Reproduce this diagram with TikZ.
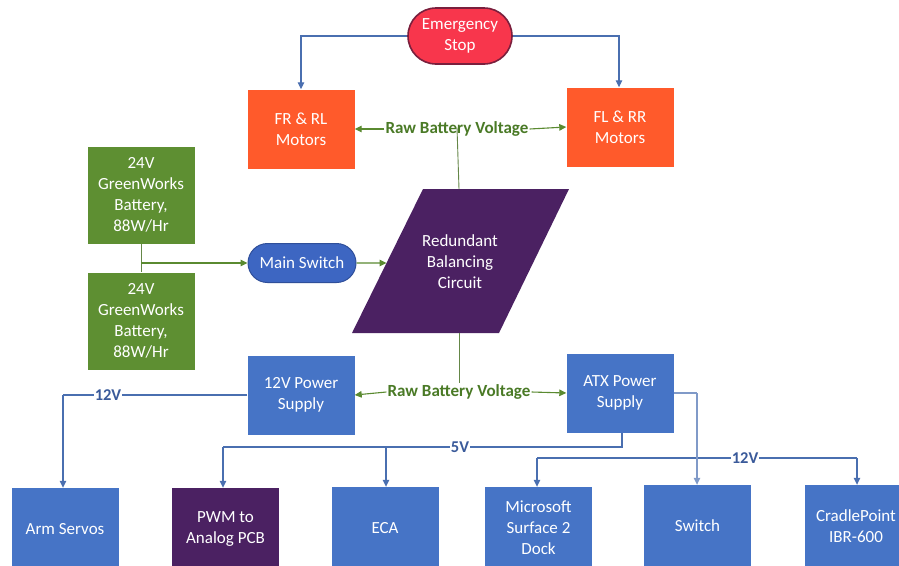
\documentclass[tikz,border=0pt]{standalone}
\usepackage{fontspec}
\setmainfont{Carlito}
\usetikzlibrary{arrows.meta,shapes.misc,calc}
\definecolor{estopred}{HTML}{F8364C}
\definecolor{estopedge}{HTML}{7A1F3D}
\definecolor{motor}{HTML}{FF5A2B}
\definecolor{batt}{HTML}{5E8F32}
\definecolor{boxblue}{HTML}{4674C6}
\definecolor{swblue}{HTML}{3D66C2}
\definecolor{swedge}{HTML}{2F4F9A}
\definecolor{purp}{HTML}{4B2162}
\definecolor{linkblue}{HTML}{4A6FB0}
\definecolor{linkgreen}{HTML}{5A8A30}
\definecolor{lblgreen}{HTML}{4A7A26}
\definecolor{lblblue}{HTML}{3A5A9A}
\tikzset{
  boxtext/.style={text=white, align=center, font=\fontsize{17}{21}\selectfont, inner sep=0pt},
  rbox/.style={boxtext, minimum width=107pt, minimum height=79pt},
  motorbox/.style={rbox, fill=motor},
  battbox/.style={rbox, fill=batt, minimum height=97pt},
  bluebox/.style={rbox, fill=boxblue},
  purpbox/.style={rbox, fill=purp},
  pill/.style={boxtext, rounded rectangle, line width=1.6pt},
  bluelink/.style={draw=linkblue, line width=1.1pt, -{Triangle[length=7pt,width=6.5pt]}},
  bluelinkplain/.style={draw=linkblue, line width=1.1pt},
  greenlink/.style={draw=linkgreen, line width=1.1pt, -{Triangle[length=7pt,width=6.5pt]}},
  greenplain/.style={draw=linkgreen!70!gray, line width=0.9pt},
  greenlbl/.style={text=lblgreen, font=\fontsize{17}{19}\bfseries\selectfont, inner sep=1pt},
  bluelbl/.style={text=lblblue, font=\fontsize{16.5}{18}\bfseries\selectfont, fill=white, inner sep=1pt},
}
\begin{document}
\begin{tikzpicture}[x=1pt,y=-1pt]
\useasboundingbox (0,0) rectangle (899,565);
\fill[white] (0,0) rectangle (899,565);

% top
\node[pill, fill=estopred, draw=estopedge, minimum width=104pt, minimum height=56pt] (estop) at (460,36) {Emergency\\Stop};
\node[motorbox] (fr) at (301,129) {FR \& RL\\Motors};
\node[motorbox] (fl) at (620,127) {FL \& RR\\Motors};
\node[greenlbl] (rbv1) at (457,129) {Raw Battery Voltage};

% parallelogram
\coordinate (ptl) at (423,189);
\coordinate (ptr) at (569,189);
\coordinate (pbr) at (499,333);
\coordinate (pbl) at (352,333);
\fill[purp] (ptl) -- (ptr) -- (pbr) -- (pbl) -- cycle;
\node[boxtext] (rbc) at (460,262) {Redundant\\Balancing\\Circuit};
\coordinate (pleft) at ($(ptl)!0.514!(pbl)$);
\coordinate (ptop) at (459,189);
\coordinate (pbot) at (459,333);

% batteries
\node[battbox] (b1) at (141,195) {24V\\GreenWorks\\Battery,\\88W/Hr};
\node[battbox] (b2) at (141,321) {24V\\GreenWorks\\Battery,\\88W/Hr};
\node[pill, fill=swblue, draw=swedge, line width=1pt, minimum width=108pt, minimum height=39pt] (ms) at (302,263) {Main Switch};
\coordinate (bj) at (141,263);

% power supplies
\node[bluebox] (ps12) at (301,395) {12V Power\\Supply};
\node[bluebox] (atx) at (620,393) {ATX Power\\Supply};
\node[greenlbl] (rbv2) at (459,392) {Raw Battery Voltage};

% bottom row
\node[bluebox, minimum height=82pt] (arm) at (65,529) {Arm Servos};
\node[purpbox, minimum height=82pt] (pwm) at (225.5,529) {PWM to\\Analog PCB};
\node[bluebox, minimum height=82pt] (eca) at (385,528) {ECA};
\node[bluebox, minimum height=82pt] (surf) at (538.5,528) {Microsoft\\Surface 2\\Dock};
\node[bluebox, minimum height=82pt] (sw) at (697.5,526) {Switch};
\node[bluebox, minimum height=82pt, minimum width=102pt] (cp) at (856,526) {CradlePoint\\IBR-600};

% connectors top
\draw[bluelink] (estop.west) -| (fr.north);
\draw[bluelink] (estop.east) -| ([xshift=-1pt]fl.north);
\draw[greenlink] (rbv1.west) -- (fr.east);
\draw[greenlink] (rbv1.east) -- (fl.west);
\draw[greenplain] ([yshift=10pt]rbv1.south) -- (ptop);
\draw[greenplain] (b1.south) -- (b2.north);
\draw[greenlink] (bj) -- (ms.west);
\draw[greenlink] (ms.east) -- (pleft);
\draw[greenplain] (pbot) -- (rbv2.north);
\draw[greenlink] (rbv2.west) -- (ps12.east);
\draw[greenlink] (rbv2.east) -- (atx.west);

% 12V from 12V supply
\coordinate (c12a) at (63,395);
\draw[bluelinkplain] (ps12.west) -- (c12a);
\draw[bluelink] (c12a) -- (arm.north -| c12a);
\node[bluelbl] (l12a) at (108,395) {12V};

% 5V from ATX
\coordinate (c5r) at (622,447);
\coordinate (c5l) at (223,447);
\coordinate (c5m) at (386,447);
\draw[bluelinkplain] (atx.south -| c5r) -- (c5r) -- (c5l);
\draw[bluelink] (c5l) -- (pwm.north -| c5l);
\draw[bluelink] (c5m) -- (eca.north -| c5m);
\node[bluelbl] (l5) at (460,447) {5V};

% 12V from ATX
\coordinate (c12s) at (697,393);
\coordinate (c12l) at (537,458);
\coordinate (c12r) at (857,458);
\draw[bluelinkplain] (c12l) -- (c12r);
\draw[bluelink] (c12l) -- (surf.north -| c12l);
\draw[bluelink] (c12r) -- (cp.north -| c12r);
\draw[bluelinkplain, draw=linkblue!70!white] (atx.east |- c12s) -- (c12s);
\draw[bluelink, draw=linkblue!70!white] (c12s) -- (sw.north -| c12s);
\node[bluelbl] (l12b) at (745,458) {12V};
\end{tikzpicture}
\end{document}
